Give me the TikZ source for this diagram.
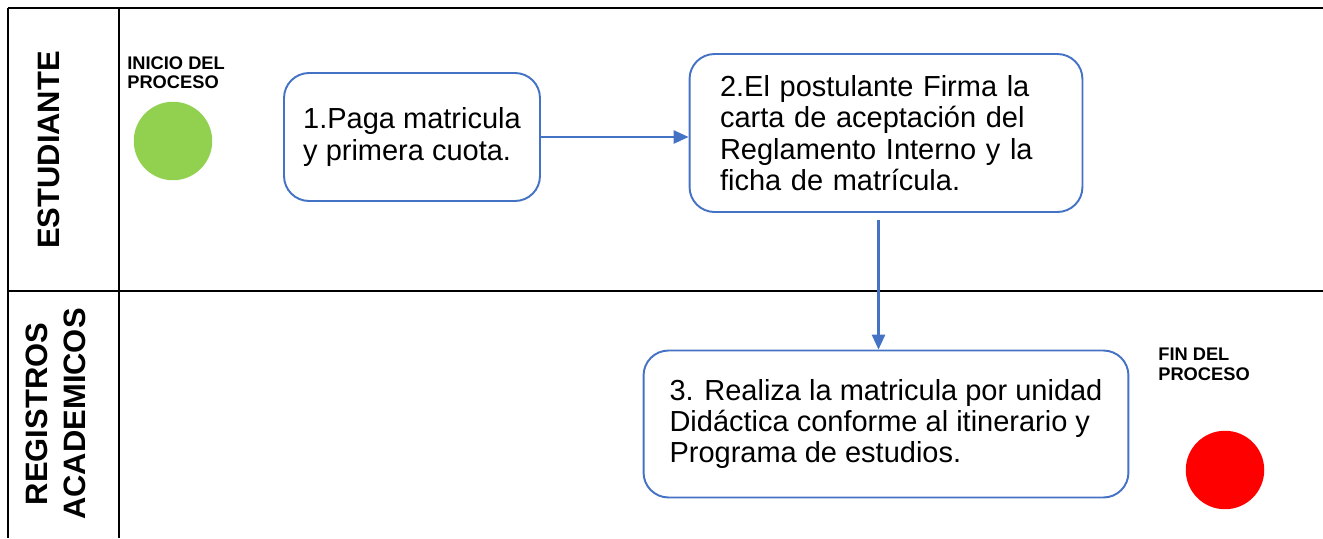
\documentclass[tikz,border=0pt]{standalone}
\usepackage{fontspec}
\setmainfont{Liberation Sans}
\usepackage{xcolor}
\usepackage{tikz}
\usetikzlibrary{arrows.meta}

\definecolor{azul}{HTML}{4472C4}
\definecolor{verde}{HTML}{92D050}
\definecolor{rojo}{HTML}{FF0000}

\begin{document}
\begin{tikzpicture}[x=0.02cm, y=-0.02cm,
	paso/.style={draw=azul, line width=1.1pt, rounded corners=0.5cm, align=left,
		font=\fontsize{16.5}{17.8}\selectfont},
	evento/.style={circle, minimum size=1.57cm, inner sep=0pt},
	rotulo/.style={font=\fontsize{10.4}{11}\selectfont\bfseries, align=left, anchor=north west, inner sep=0pt},
	carril/.style={font=\fontsize{17.6}{21.5}\selectfont\bfseries, rotate=90, align=center},
	flecha/.style={draw=azul, line width=1.2pt, -{Triangle[length=8.5pt, width=7.5pt]}}
]

\useasboundingbox (0,0) rectangle (1323,538);

% carriles
\draw[line width=1.4pt] (8,8)--(1323,8);
\draw[line width=1.4pt] (8,291)--(1323,291);
\draw[line width=1.4pt] (8,8)--(8,538);
\draw[line width=1.4pt] (119,8)--(119,538);

\node[carril] (est) at (49,150) {ESTUDIANTE};
\node[carril] (reg) at (56,414) {REGISTROS\\ACADEMICOS};

% inicio y fin
\node[rotulo] (txtini) at (127,56) {INICIO DEL\\PROCESO};
\node[evento, fill=verde] (ini) at (173,141) {};

\node[rotulo] (txtfin) at (1158,348) {FIN DEL\\PROCESO};
\node[evento, fill=rojo] (fin) at (1225,470) {};

% pasos
\node[paso, minimum width=5.12cm, minimum height=2.56cm] (paso1) at (412,137)
	{1.Paga matricula\\y primera cuota.};
\node[paso, text width=6.64cm, minimum width=7.86cm, minimum height=3.16cm] (paso2) at (886,133)
	{2.El postulante Firma la\\carta de aceptación del\\Reglamento Interno y la\\ficha de matrícula.};
\node[paso, minimum width=9.7cm, minimum height=2.94cm] (paso3) at (886,424)
	{3. Realiza la matricula por unidad\\Didáctica conforme al itinerario y\\Programa de estudios.};

\draw[flecha] (paso1.east) -- (paso1.east -| paso2.west);
\draw[flecha] ([xshift=-0.15cm, yshift=-0.14cm]paso2.south) -- ([xshift=-0.15cm]paso3.north);

\end{tikzpicture}
\end{document}
